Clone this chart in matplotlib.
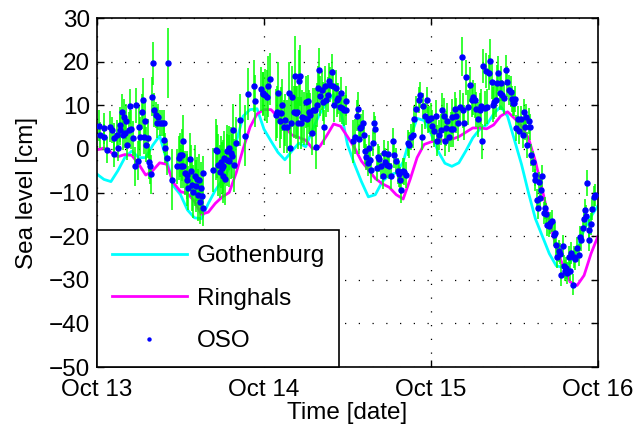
import matplotlib
matplotlib.use('Agg')
import matplotlib.pyplot as plt
import matplotlib.dates as mdates
import numpy as np
import pandas as pd

plt.rcParams['font.family'] = ['Liberation Sans', 'DejaVu Sans']

# ---------------- data ----------------
start_date = '2013-10-13'
line_hours = list(range(0, 73))
gothenburg = [-5.8, -7.0, -7.5, -5.0, -2.0, -0.5, -2.0, -2.0, 0.8, 3.0,
              -2.5, -8.5, -10.5, -14.0, -15.8, -16.0, -12.5, -9.5, -7.2, -4.5,
              1.5, 7.5, 9.0, 9.2, 4.5, 1.8, -0.8, -2.5, -0.5, 1.3,
              0.5, 4.5, 8.0, 10.5, 12.5, 9.0, 1.0, -3.5, -7.5, -11.0,
              -10.5, -7.5, -6.0, -5.5, -3.0, 2.5, 7.0, 6.5, 3.5, -0.5,
              -3.3, -4.0, -3.2, -0.5, 2.5, 4.5, 5.5, 8.0, 9.7, 7.5,
              2.0, -3.5, -10.0, -16.0, -20.0, -24.0, -26.8, -27.2, -26.0, -23.0,
              -18.5, -15.5, -13.0]
ringhals = [-0.2, 0.2, -0.8, -1.8, -1.3, -1.5, -3.5, -6.0, -5.0, -3.2,
            -3.5, -7.8, -9.8, -10.2, -12.0, -15.0, -14.5, -12.5, -11.0, -10.0,
            -5.5, 0.0, 5.0, 8.0, 9.0, 9.0, 7.3, 5.0, 3.2, 2.6,
            2.0, 0.0, 0.5, 3.0, 5.7, 5.2, 2.8, 0.3, -2.8, -4.8,
            -6.8, -8.0, -8.8, -10.5, -11.5, -7.0, -2.0, 1.0, 1.6, 2.0,
            2.0, 2.2, 2.8, 3.8, 4.8, 4.8, 4.6, 5.5, 7.5, 8.5,
            7.0, 5.3, 2.5, -2.8, -9.4, -16.5, -22.5, -27.0, -30.5, -31.3,
            -29.0, -24.0, -20.0]

oso_hours = [
    0.24, 0.48, 0.96, 1.05, 1.44, 1.92, 2.16, 2.40, 2.50, 2.87, 2.97, 3.26, 3.35, 3.59,
    3.74, 3.93, 4.07, 4.22, 4.31, 4.55, 4.69, 4.89, 5.17, 5.51, 5.65, 5.84, 5.99, 6.23,
    6.47, 6.61, 6.71, 6.85, 7.09, 7.28, 7.42, 7.66, 7.70, 7.90, 8.05, 8.24, 8.53, 8.62,
    8.72, 9.00, 9.34, 9.58, 9.68, 9.82, 10.06, 10.15, 10.78, 11.50, 11.74, 11.98, 12.07,
    12.17, 12.31, 12.41, 12.65, 12.89, 13.00, 13.13, 13.37, 13.50, 13.61, 13.85, 14.09,
    14.20, 14.42, 14.56, 14.71, 14.80, 14.90, 15.04, 15.19, 15.28, 16.62, 17.10, 17.30,
    17.44, 17.68, 17.80, 17.92, 18.06, 18.16, 18.30, 18.40, 18.64, 18.73, 18.90, 19.02,
    19.21, 19.35, 19.50, 19.69, 19.98, 20.55, 21.27, 21.75, 22.56, 22.76, 23.62, 23.81,
    23.85, 24.09, 24.42, 24.57, 24.90, 25.67, 25.86, 26.01, 26.25, 26.48, 26.63, 26.82,
    26.96, 27.30, 27.59, 27.78, 27.92, 28.07, 28.26, 28.40, 28.54, 28.74, 28.88, 29.02,
    29.21, 29.36, 29.50, 29.69, 29.98, 30.17, 30.32, 30.46, 30.65, 30.94, 31.04, 31.27,
    31.42, 31.61, 31.75, 31.90, 32.09, 32.28, 32.47, 32.57, 32.71, 32.95, 33.19, 33.33,
    33.53, 33.72, 33.91, 34.05, 34.29, 34.48, 34.68, 34.87, 35.06, 35.25, 35.44, 35.73,
    35.78, 36.83, 37.12, 37.31, 37.50, 37.70, 37.79, 37.94, 38.18, 38.41, 38.56, 38.65,
    38.89, 39.04, 39.23, 39.37, 39.61, 39.85, 40.00, 40.19, 40.33, 40.57, 40.81, 41.05,
    41.29, 41.43, 41.62, 41.77, 41.91, 42.25, 42.49, 42.73, 42.97, 43.20, 43.35, 43.54,
    43.68, 43.92, 44.16, 44.40, 44.64, 44.88, 45.12, 45.36, 45.60, 45.84, 46.22, 46.41,
    46.70, 46.89, 47.18, 47.37, 47.56, 47.76,
    47.95, 48.19, 48.43, 48.67, 48.91, 49.15, 49.39, 49.63, 49.87, 50.01, 50.20, 50.34,
    50.58, 50.82, 51.06, 51.16, 51.45, 51.64, 51.93, 52.12, 52.40, 52.60, 52.74, 53.07,
    53.36, 53.55, 53.84, 54.03, 54.32, 54.51, 54.80, 54.99, 55.13, 55.37, 55.47, 55.76,
    55.85, 56.09, 56.33, 56.52, 56.72, 56.91, 57.10, 57.29, 57.53, 57.67, 57.86, 58.01,
    58.25, 58.49, 58.73, 58.97, 59.21, 59.45, 59.69, 59.78,
    59.88, 60.02, 60.21, 60.50, 60.69, 60.98, 61.17, 61.36, 61.56, 61.65, 61.80, 62.04,
    62.27, 62.42, 62.61, 62.90, 62.99, 63.23, 63.38, 63.47, 63.71, 63.86, 63.95, 64.19,
    64.33, 64.53, 64.67, 64.91, 65.15, 65.39, 65.63, 65.77, 65.96, 66.11, 66.35, 66.59,
    66.73, 66.97, 67.06, 67.21, 67.40, 67.54, 67.78, 68.02, 68.17, 68.36, 68.50, 68.74,
    68.98, 69.22, 69.46, 69.60, 69.79, 69.94, 70.08, 70.27, 70.42, 70.66, 70.75, 70.94,
    71.14, 71.38, 71.62]

oso_level = [
    5.3, 3.2, 4.7, 2.8, -0.2, 5.1, 4.4, 2.4, -1.1, 3.2, 0.2, 4.4, 5.5, 8.5,
    3.2, 7.4, 3.6, 6.3, 0.9, 4.4, 9.8, 4.5, 2.4, -4.0, 10.0, -2.7, 4.9, 2.8,
    8.5, 11.2, 2.8, 6.5, 1.0, 2.4, -2.9, -4.0, -5.8, 12.0, 19.6, 8.9, 7.8, 6.0,
    7.4, 5.9, 5.9, 2.1, 6.0, 0.2, -2.1, 19.6, -7.1, -4.0, -2.1, -1.4, -4.0,
    -1.4, -4.0, 1.7, -5.6, -7.1, -6.0, -9.0, -2.4, -5.0, -8.2, -9.8, -6.2,
    -8.5, -6.9, -10.5, -7.1, -12.2, -9.0, -10.8, -13.6, -5.6, -4.8, -0.2, -0.6,
    -3.7, -5.2, -3.0, -4.4, -6.3, -4.0, -2.0, -6.9, -2.5, -0.6, -2.8, 0.2,
    -1.0, -1.6, 4.4, -3.8, 1.3, 6.6, 3.0, 12.6, 14.4, 11.0, 13.7, 12.6,
    12.7, 12.4, 12.0, 14.3, 16.0, 7.8, 8.5, 12.9, 6.3, 8.2, 10.1, 5.1,
    6.6, 5.1, 12.9, 0.2, 5.9, 12.0, 8.5, 16.8, 8.3, 8.5, 5.9, 15.6,
    16.8, 5.9, 7.4, 7.0, 10.8, 6.8, 11.0, 8.5, 7.8, 3.7, 8.9, 8.9,
    0.4, 10.1, 14.0, 18.1, 12.1, 13.4, 10.8, 5.0, 14.4, 11.2, 12.4, 15.6,
    14.7, 17.7, 14.4, 10.1, 14.0, 11.2, 11.6, 9.7, 12.9, 9.3, 8.8, 11.0,
    8.9, 1.7, 2.8, 7.6, 9.1, 2.3, 4.7, 5.1, 6.0, 3.2, -0.5, -1.9,
    -3.3, 0.2, -2.5, -4.8, 1.3, 6.0, 4.5, -4.4, -1.8, -2.4, -4.0, -6.2,
    -1.0, -2.9, -3.7, -1.1, -3.9, -6.2, 1.7, -1.4, -2.7, -5.0, -5.7, -7.1,
    -9.5, -5.0, -5.2, -6.0, 1.3, 0.9, 2.8, 3.2, 6.8, 9.1, 11.2, 12.4,
    2.8, 9.8, 7.6, 11.2, 6.6, 6.9,
    7.0, 5.3, 4.0, 7.6, 1.9, 3.2, 4.4, 8.8, 7.6, 1.9, 4.7, 6.5,
    2.8, 4.5, 7.4, 4.5, 9.1, 7.6, 5.9, 9.5, 21.1, 8.8, 6.0, 16.4,
    9.5, 14.7, 11.2, 11.8, 11.1, 9.1, 6.8, 8.9, 9.8, 1.7, 19.0, 9.3,
    17.9, 9.7, 17.5, 20.2, 15.4, 10.1, 10.8, 11.2, 15.2, 17.3, 12.9, 15.0,
    12.4, 11.6, 18.1, 15.4, 13.5, 13.1, 11.4, 10.5,
    10.5, 11.5, 4.7, 6.9, 4.2, 6.8, 3.2, 8.5, 5.1, 7.4, 0.9, 6.3,
    5.1, -1.4, -2.9, -6.0, -7.1, -11.7, -13.6, -7.7, -11.3, -9.5, -6.2, -14.7,
    -13.6, -14.9, -17.4, -17.6, -17.0, -16.6, -19.7, -19.2, -22.0, -24.8, -23.5, -24.0,
    -28.9, -22.2, -26.9, -27.9, -27.3, -28.5, -24.8, -27.9, -23.9, -31.1, -24.8, -25.3,
    -22.7, -24.3, -20.1, -21.0, -18.2, -16.1, -14.1, -15.3, -7.9, -18.5, -21.0, -17.2,
    -13.8, -11.1, -10.5]

oso_err = [
    3.5, 3.0, 3.5, 3.0, 3.0, 3.5, 3.0, 3.5, 3.0, 3.5, 3.0, 3.5, 4.0, 4.0,
    3.5, 4.0, 3.5, 4.0, 3.5, 4.0, 4.0, 4.5, 4.0, 4.5, 4.0, 4.5, 5.0, 4.5,
    4.0, 5.0, 4.0, 4.5, 4.0, 4.5, 4.0, 4.0, 4.5, 4.5, 5.0, 4.0, 3.0, 3.5,
    3.0, 3.0, 3.0, 3.0, 3.0, 3.5, 4.0, 8.0, 7.0, 4.0, 5.0, 5.0, 5.0,
    6.0, 5.0, 6.0, 5.0, 6.0, 5.5, 5.0, 6.0, 6.0, 6.0, 6.0, 7.0,
    6.0, 5.0, 6.0, 6.0, 5.0, 6.0, 4.0, 4.0, 4.0, 5.0, 7.0, 6.0,
    7.0, 6.0, 6.0, 6.0, 6.0, 6.0, 6.0, 6.0, 6.0, 6.0, 6.0, 5.0,
    6.0, 5.0, 6.0, 6.0, 6.0, 6.0, 7.0, 6.0, 6.0, 6.0, 5.0, 5.0,
    5.0, 6.0, 6.0, 7.0, 6.0, 6.0, 6.0, 7.0, 6.0, 6.0, 6.0, 6.0,
    6.0, 6.0, 7.0, 6.0, 6.0, 7.0, 6.0, 9.0, 6.0, 6.0, 6.0, 7.0,
    7.0, 6.0, 6.0, 6.0, 6.0, 6.0, 6.0, 5.0, 5.0, 5.0, 5.0, 5.0,
    5.0, 5.0, 5.0, 5.0, 4.5, 4.5, 4.5, 4.0, 4.5, 4.0, 4.0, 4.0,
    4.0, 4.0, 4.0, 4.0, 4.0, 4.0, 3.5, 3.5, 3.5, 3.5, 3.5, 3.5,
    3.5, 5.0, 4.0, 3.5, 4.0, 3.5, 3.0, 3.0, 3.0, 3.0, 3.0, 3.0,
    3.0, 3.0, 3.0, 3.0, 3.0, 2.5, 3.0, 3.0, 3.0, 3.0, 3.0, 3.0,
    3.0, 3.0, 3.0, 3.0, 3.0, 3.0, 3.0, 3.0, 3.0, 3.0, 3.0, 3.0,
    3.0, 3.0, 3.0, 3.0, 3.0, 3.0, 3.0, 3.0, 3.0, 3.0, 3.0, 3.0,
    3.0, 3.0, 3.0, 3.0, 3.0, 3.0,
    3.5, 3.5, 3.5, 3.5, 3.5, 3.5, 3.5, 4.0, 4.0, 3.5, 4.0, 4.0,
    3.5, 4.0, 4.0, 4.0, 4.0, 4.0, 4.0, 4.0, 4.5, 4.0, 4.0, 4.0,
    4.0, 4.0, 4.0, 4.0, 4.0, 4.0, 4.0, 4.0, 4.0, 4.0, 4.0, 4.0,
    4.0, 4.0, 4.0, 5.0, 4.0, 4.0, 4.0, 4.0, 4.0, 4.0, 4.0, 4.0,
    3.5, 3.5, 3.5, 3.5, 3.5, 3.5, 3.0, 3.0,
    3.0, 3.0, 3.0, 3.0, 3.0, 3.0, 3.0, 3.0, 3.0, 3.0, 3.0, 3.0,
    3.0, 2.5, 2.5, 2.5, 2.5, 2.5, 2.5, 2.5, 2.5, 2.5, 2.5, 2.5,
    2.5, 2.5, 2.5, 2.5, 2.5, 2.5, 2.5, 2.5, 2.5, 2.5, 2.5, 2.5,
    2.5, 2.5, 2.5, 2.5, 2.5, 2.5, 2.5, 2.5, 2.5, 2.5, 2.5, 2.5,
    2.5, 2.5, 2.5, 2.5, 2.5, 2.5, 2.5, 2.5, 3.0, 2.5, 2.5, 2.5,
    2.5, 2.5, 2.5]

x_tick_dates = ['2013-10-13', '2013-10-14', '2013-10-15', '2013-10-16']
y_ticks = [-50, -40, -30, -20, -10, 0, 10, 20, 30]

# ---------------- plot ----------------
FS = 17.5
start = pd.Timestamp(start_date)
t_line = start + pd.to_timedelta(np.array(line_hours, dtype=float), unit='h')
t_oso = start + pd.to_timedelta(np.array(oso_hours, dtype=float), unit='h')

fig = plt.figure(figsize=(6.35, 4.30), dpi=100)
ax = fig.add_axes([97 / 635, 1 - 367 / 430, 501 / 635, 349 / 430])

ax.plot(t_line, gothenburg, color='#00ffff', lw=2.0, label='Gothenburg', zorder=2)
ax.plot(t_line, ringhals, color='#ff00ff', lw=2.0, label='Ringhals', zorder=2)
ax.errorbar(t_oso, oso_level, yerr=oso_err, fmt='none', ecolor='#00ff00',
            elinewidth=1.1, capsize=0, zorder=3)
ax.plot(t_oso, oso_level, linestyle='none', marker='o', ms=3.6,
        color='#0000ff', mec='#0000ff', label='OSO', zorder=4)

ax.set_xlim(pd.Timestamp(x_tick_dates[0]), pd.Timestamp(x_tick_dates[-1]))
ax.set_ylim(y_ticks[0], y_ticks[-1])
ax.set_xticks([pd.Timestamp(d) for d in x_tick_dates])
ax.xaxis.set_major_formatter(mdates.DateFormatter('%b %d'))
ax.set_yticks(y_ticks)

ax.grid(True, color='black', linestyle=(0, (1, 10)), linewidth=0.9)
ax.tick_params(direction='in', length=5, width=1, top=True, right=True,
               labelsize=FS)
ax.tick_params(axis='x', pad=9)
ax.tick_params(axis='y', pad=5)
for s in ax.spines.values():
    s.set_linewidth(1.2)

ax.set_xlabel('Time [date]', fontsize=FS, labelpad=0)
ax.set_ylabel('Sea level [cm]', fontsize=FS, labelpad=8)

leg = ax.legend(loc='lower left', borderaxespad=0, fontsize=FS, fancybox=False,
                edgecolor='black', framealpha=1, handlelength=3.1,
                labelspacing=0.85, borderpad=0.6, handletextpad=0.4,
                markerscale=0.6)
leg.get_frame().set_linewidth(1.2)

fig.savefig('out.png', dpi=100)
